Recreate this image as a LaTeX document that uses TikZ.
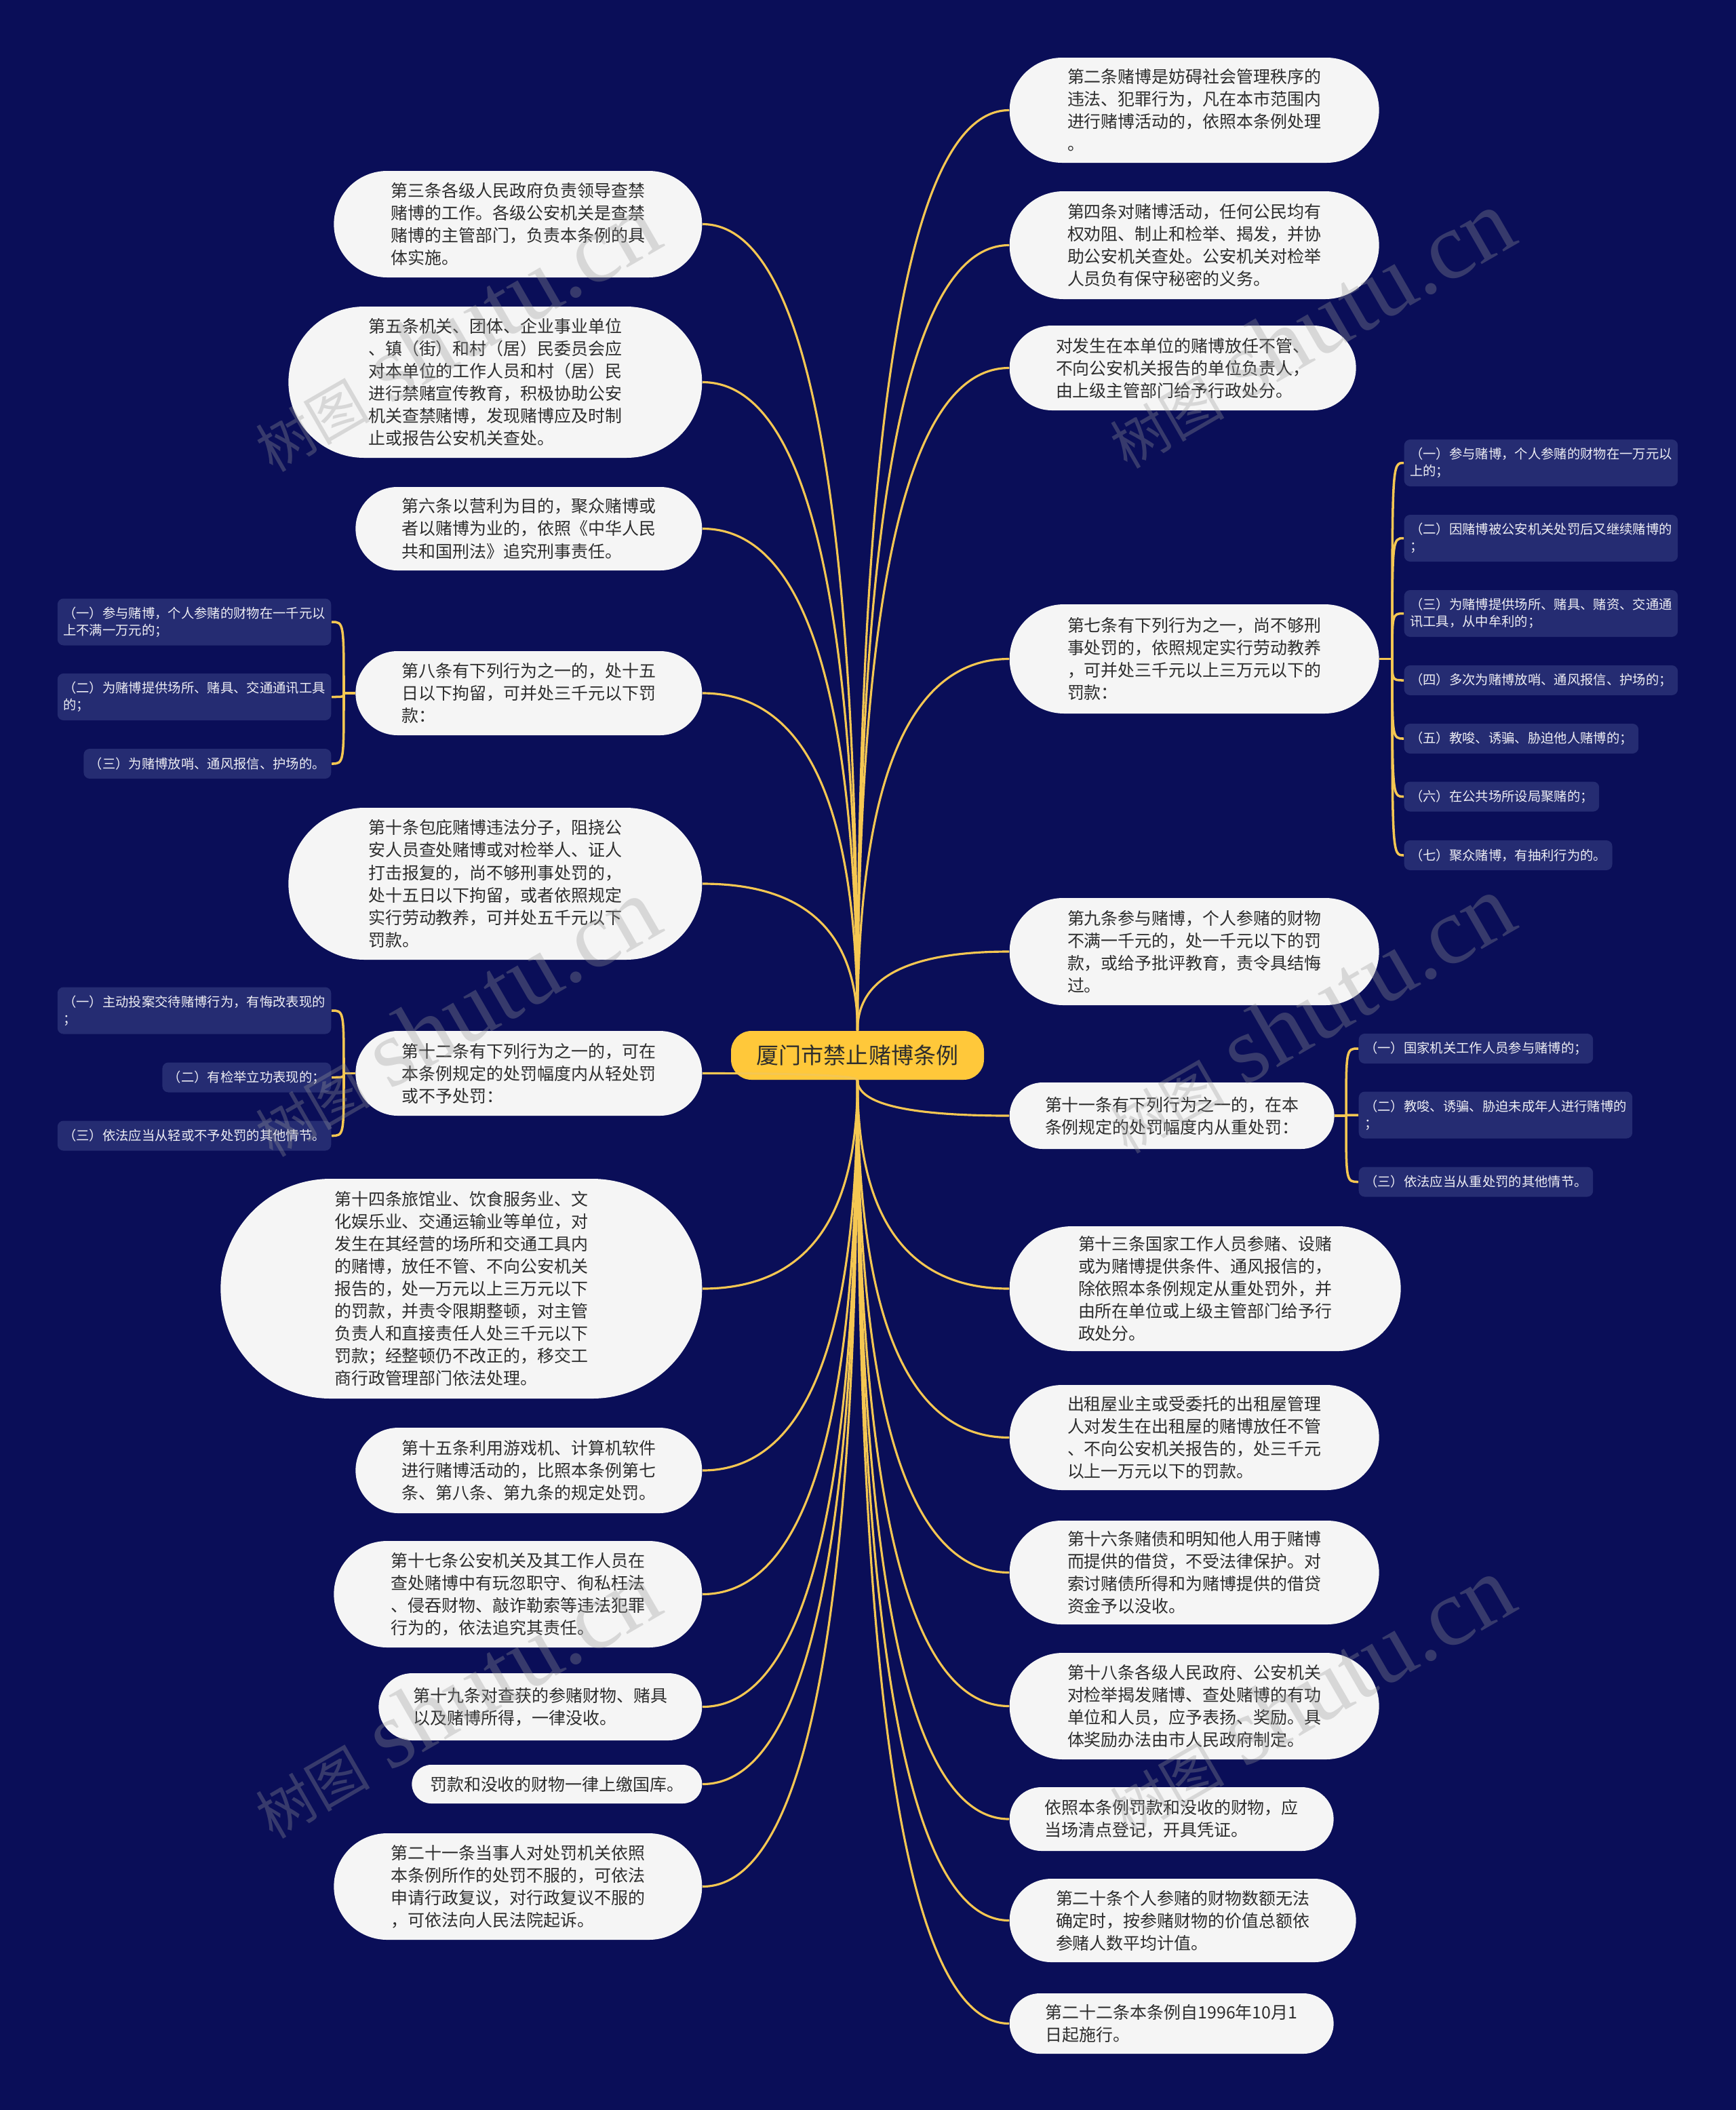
\documentclass[tikz,border=0pt]{standalone}
\usepackage{fontspec}
\setmainfont{Noto Sans CJK SC}
\newfontfamily\marcafont{Liberation Serif}
\usepackage{tikz}
\usetikzlibrary{shapes.misc, calc}
\definecolor{Marino}{RGB}{10, 14, 88}
\definecolor{Oro}{RGB}{245, 199, 82}
\definecolor{Ambar}{RGB}{255, 200, 58}
\definecolor{Hueso}{RGB}{245, 245, 245}
\definecolor{Tinta}{RGB}{45, 45, 45}
\definecolor{Celda}{RGB}{37, 44, 114}

\begin{document}
\begin{tikzpicture}[
        art/.style={
            rounded rectangle,
            fill=Hueso,
            text=Tinta,
            align=left,
            inner xsep=2pt,
            inner ysep=1pt,
            font=\fontsize{7.1}{9.4}\selectfont
        },
        item/.style={
            rectangle,
            rounded corners=2.5pt,
            fill=Celda,
            text=white!92!Celda,
            align=left,
            inner xsep=2.4pt,
            inner ysep=1pt,
            minimum height=0.44cm,
            font=\fontsize{5.5}{7.1}\selectfont
        },
        link/.style={
            draw=Oro,
            line width=0.9pt,
            to path={.. controls ($(\tikztostart)!0.667!(\tikztostart |- \tikztotarget)$)
                and ($(\tikztotarget)!0.667!(\tikztostart |- \tikztotarget)$) .. (\tikztotarget)}
        },
        brace/.style={
            draw=Oro,
            line width=1pt,
            to path={.. controls (\tikztostart |- \tikztotarget) .. (\tikztotarget)}
        },
        marca/.style={
            text=white!60!black,
            opacity=0.32,
            rotate=30
        }
    ]
        % Background
        \useasboundingbox (0,0) rectangle (25.6,-31.11);
        \fill[Marino] (0,0) rectangle (25.6,-31.11);

        % Root
        \node[rectangle, rounded corners=0.3cm, fill=Ambar, text=Tinta, minimum width=3.73cm, minimum height=0.72cm, font=\fontsize{9.4}{11}\selectfont] (raiz) at (12.645, -15.56) {厦门市禁止赌博条例};

        % Nodes, right side
        \node[art, anchor=west, minimum width=5.59cm, minimum height=1.55cm] (art2) at (14.88, -1.625) {第二条赌博是妨碍社会管理秩序的\\违法、犯罪行为，凡在本市范围内\\进行赌博活动的，依照本条例处理\\。};
        \node[art, anchor=west, minimum width=5.59cm, minimum height=1.59cm] (art4) at (14.88, -3.615) {第四条对赌博活动，任何公民均有\\权劝阻、制止和检举、揭发，并协\\助公安机关查处。公安机关对检举\\人员负有保守秘密的义务。};
        \node[art, anchor=west, minimum width=5.25cm, minimum height=1.25cm] (danwei) at (14.88, -5.425) {对发生在本单位的赌博放任不管、\\不向公安机关报告的单位负责人，\\由上级主管部门给予行政处分。};
        \node[art, anchor=west, minimum width=5.59cm, minimum height=1.61cm] (art7) at (14.88, -9.715) {第七条有下列行为之一，尚不够刑\\事处罚的，依照规定实行劳动教养\\，可并处三千元以上三万元以下的\\罚款：};
        \node[art, anchor=west, minimum width=5.59cm, minimum height=1.58cm] (art9) at (14.88, -14.03) {第九条参与赌博，个人参赌的财物\\不满一千元的，处一千元以下的罚\\款，或给予批评教育，责令具结悔\\过。};
        \node[art, anchor=west, minimum width=4.93cm, minimum height=0.98cm] (art11) at (14.88, -16.45) {第十一条有下列行为之一的，在本\\条例规定的处罚幅度内从重处罚：};
        \node[art, anchor=west, minimum width=5.91cm, minimum height=1.84cm] (art13) at (14.88, -19.00) {第十三条国家工作人员参赌、设赌\\或为赌博提供条件、通风报信的，\\除依照本条例规定从重处罚外，并\\由所在单位或上级主管部门给予行\\政处分。};
        \node[art, anchor=west, minimum width=5.59cm, minimum height=1.55cm] (chuzu) at (14.88, -21.195) {出租屋业主或受委托的出租屋管理\\人对发生在出租屋的赌博放任不管\\、不向公安机关报告的，处三千元\\以上一万元以下的罚款。};
        \node[art, anchor=west, minimum width=5.59cm, minimum height=1.53cm] (art16) at (14.88, -23.185) {第十六条赌债和明知他人用于赌博\\而提供的借贷，不受法律保护。对\\索讨赌债所得和为赌博提供的借贷\\资金予以没收。};
        \node[art, anchor=west, minimum width=5.59cm, minimum height=1.57cm] (art18) at (14.88, -25.155) {第十八条各级人民政府、公安机关\\对检举揭发赌博、查处赌博的有功\\单位和人员，应予表扬、奖励。具\\体奖励办法由市人民政府制定。};
        \node[art, anchor=west, minimum width=4.92cm, minimum height=0.94cm] (yizhao) at (14.88, -26.82) {依照本条例罚款和没收的财物，应\\当场清点登记，开具凭证。};
        \node[art, anchor=west, minimum width=5.25cm, minimum height=1.23cm] (art20) at (14.88, -28.315) {第二十条个人参赌的财物数额无法\\确定时，按参赌财物的价值总额依\\参赌人数平均计值。};
        \node[art, anchor=west, minimum width=4.92cm, minimum height=0.89cm] (art22) at (14.88, -29.835) {第二十二条本条例自1996年10月1\\日起施行。};

        % Nodes, left side
        \node[art, anchor=east, minimum width=5.57cm, minimum height=1.57cm] (art3) at (10.36, -3.305) {第三条各级人民政府负责领导查禁\\赌博的工作。各级公安机关是查禁\\赌博的主管部门，负责本条例的具\\体实施。};
        \node[art, anchor=east, minimum width=6.24cm, minimum height=2.23cm] (art5) at (10.36, -5.635) {第五条机关、团体、企业事业单位\\、镇（街）和村（居）民委员会应\\对本单位的工作人员和村（居）民\\进行禁赌宣传教育，积极协助公安\\机关查禁赌博，发现赌博应及时制\\止或报告公安机关查处。};
        \node[art, anchor=east, minimum width=5.25cm, minimum height=1.23cm] (art6) at (10.36, -7.795) {第六条以营利为目的，聚众赌博或\\者以赌博为业的，依照《中华人民\\共和国刑法》追究刑事责任。};
        \node[art, anchor=east, minimum width=5.25cm, minimum height=1.24cm] (art8) at (10.36, -10.22) {第八条有下列行为之一的，处十五\\日以下拘留，可并处三千元以下罚\\款：};
        \node[art, anchor=east, minimum width=6.24cm, minimum height=2.24cm] (art10) at (10.36, -13.03) {第十条包庇赌博违法分子，阻挠公\\安人员查处赌博或对检举人、证人\\打击报复的，尚不够刑事处罚的，\\处十五日以下拘留，或者依照规定\\实行劳动教养，可并处五千元以下\\罚款。};
        \node[art, anchor=east, minimum width=5.25cm, minimum height=1.25cm] (art12) at (10.36, -15.825) {第十二条有下列行为之一的，可在\\本条例规定的处罚幅度内从轻处罚\\或不予处罚：};
        \node[art, anchor=east, minimum width=7.24cm, minimum height=3.24cm] (art14) at (10.36, -19.00) {第十四条旅馆业、饮食服务业、文\\化娱乐业、交通运输业等单位，对\\发生在其经营的场所和交通工具内\\的赌博，放任不管、不向公安机关\\报告的，处一万元以上三万元以下\\的罚款，并责令限期整顿，对主管\\负责人和直接责任人处三千元以下\\罚款；经整顿仍不改正的，移交工\\商行政管理部门依法处理。};
        \node[art, anchor=east, minimum width=5.25cm, minimum height=1.26cm] (art15) at (10.36, -21.68) {第十五条利用游戏机、计算机软件\\进行赌博活动的，比照本条例第七\\条、第八条、第九条的规定处罚。};
        \node[art, anchor=east, minimum width=5.57cm, minimum height=1.57cm] (art17) at (10.36, -23.505) {第十七条公安机关及其工作人员在\\查处赌博中有玩忽职守、徇私枉法\\、侵吞财物、敲诈勒索等违法犯罪\\行为的，依法追究其责任。};
        \node[art, anchor=east, minimum width=4.91cm, minimum height=0.99cm] (art19) at (10.36, -25.165) {第十九条对查获的参赌财物、赌具\\以及赌博所得，一律没收。};
        \node[art, anchor=east, minimum width=4.42cm, minimum height=0.57cm] (fakuan) at (10.36, -26.305) {罚款和没收的财物一律上缴国库。};
        \node[art, anchor=east, minimum width=5.57cm, minimum height=1.57cm] (art21) at (10.36, -27.815) {第二十一条当事人对处罚机关依照\\本条例所作的处罚不服的，可依法\\申请行政复议，对行政复议不服的\\，可依法向人民法院起诉。};

        % Items of art. 7
        \node[item, anchor=west, minimum height=0.69cm] (art7a) at (20.70, -6.825) {（一）参与赌博，个人参赌的财物在一万元以\\上的；};
        \node[item, anchor=west, minimum height=0.69cm] (art7b) at (20.70, -7.935) {（二）因赌博被公安机关处罚后又继续赌博的\\；};
        \node[item, anchor=west, minimum height=0.69cm] (art7c) at (20.70, -9.045) {（三）为赌博提供场所、赌具、赌资、交通通\\讯工具，从中牟利的；};
        \node[item, anchor=west] (art7d) at (20.70, -10.03) {（四）多次为赌博放哨、通风报信、护场的；};
        \node[item, anchor=west] (art7e) at (20.70, -10.89) {（五）教唆、诱骗、胁迫他人赌博的；};
        \node[item, anchor=west] (art7f) at (20.70, -11.745) {（六）在公共场所设局聚赌的；};
        \node[item, anchor=west] (art7g) at (20.70, -12.61) {（七）聚众赌博，有抽利行为的。};

        % Items of art. 8
        \node[item, anchor=east, minimum height=0.69cm] (art8a) at (4.89, -9.17) {（一）参与赌博，个人参赌的财物在一千元以\\上不满一万元的；};
        \node[item, anchor=east, minimum height=0.69cm] (art8b) at (4.89, -10.275) {（二）为赌博提供场所、赌具、交通通讯工具\\的；};
        \node[item, anchor=east] (art8c) at (4.89, -11.26) {（三）为赌博放哨、通风报信、护场的。};

        % Items of art. 11
        \node[item, anchor=west] (art11a) at (20.03, -15.46) {（一）国家机关工作人员参与赌博的；};
        \node[item, anchor=west, minimum height=0.69cm] (art11b) at (20.03, -16.44) {（二）教唆、诱骗、胁迫未成年人进行赌博的\\；};
        \node[item, anchor=west] (art11c) at (20.03, -17.425) {（三）依法应当从重处罚的其他情节。};

        % Items of art. 12
        \node[item, anchor=east, minimum height=0.69cm] (art12a) at (4.89, -14.90) {（一）主动投案交待赌博行为，有悔改表现的\\；};
        \node[item, anchor=east] (art12b) at (4.89, -15.885) {（二）有检举立功表现的；};
        \node[item, anchor=east] (art12c) at (4.89, -16.745) {（三）依法应当从轻或不予处罚的其他情节。};

        % Paths from the root
        \draw[link] (raiz.north) to (art2.west);
        \draw[link] (raiz.north) to (art4.west);
        \draw[link] (raiz.north) to (danwei.west);
        \draw[link] (raiz.north) to (art7.west);
        \draw[link] (raiz.north) to (art9.west);
        \draw[link] (raiz.south) to (art11.west);
        \draw[link] (raiz.south) to (art13.west);
        \draw[link] (raiz.south) to (chuzu.west);
        \draw[link] (raiz.south) to (art16.west);
        \draw[link] (raiz.south) to (art18.west);
        \draw[link] (raiz.south) to (yizhao.west);
        \draw[link] (raiz.south) to (art20.west);
        \draw[link] (raiz.south) to (art22.west);
        \draw[link] (raiz.north) to (art3.east);
        \draw[link] (raiz.north) to (art5.east);
        \draw[link] (raiz.north) to (art6.east);
        \draw[link] (raiz.north) to (art8.east);
        \draw[link] (raiz.north) to (art10.east);
        \draw[link] (raiz.south) to (art12.east);
        \draw[link] (raiz.south) to (art14.east);
        \draw[link] (raiz.south) to (art15.east);
        \draw[link] (raiz.south) to (art17.east);
        \draw[link] (raiz.south) to (art19.east);
        \draw[link] (raiz.south) to (fakuan.east);
        \draw[link] (raiz.south) to (art21.east);

        % Braces to the items
        \coordinate (j7) at (20.53, -9.715);
        \draw[brace] (art7.east) -- (j7);
        \draw[brace] (j7) to (art7a.west);
        \draw[brace] (j7) to (art7b.west);
        \draw[brace] (j7) to (art7c.west);
        \draw[brace] (j7) to (art7d.west);
        \draw[brace] (j7) to (art7e.west);
        \draw[brace] (j7) to (art7f.west);
        \draw[brace] (j7) to (art7g.west);

        \coordinate (j8) at (5.07, -10.22);
        \draw[brace] (art8.west) -- (j8);
        \draw[brace] (j8) to (art8a.east);
        \draw[brace] (j8) to (art8b.east);
        \draw[brace] (j8) to (art8c.east);

        \coordinate (j11) at (19.85, -16.45);
        \draw[brace] (art11.east) -- (j11);
        \draw[brace] (j11) to (art11a.west);
        \draw[brace] (j11) to (art11b.west);
        \draw[brace] (j11) to (art11c.west);

        \coordinate (j12) at (5.07, -15.825);
        \draw[brace] (art12.west) -- (j12);
        \draw[brace] (j12) to (art12a.east);
        \draw[brace] (j12) to (art12b.east);
        \draw[brace] (j12) to (art12c.east);

        % Watermarks
        \node[marca] (marca1) at (6.7, -4.9) {{\fontsize{24}{24}\selectfont 树图}\hspace{0.3cm}{\marcafont\fontsize{40}{40}\selectfont shutu.cn}};
        \node[marca] (marca2) at (19.3, -4.85) {{\fontsize{24}{24}\selectfont 树图}\hspace{0.3cm}{\marcafont\fontsize{40}{40}\selectfont shutu.cn}};
        \node[marca] (marca3) at (6.7, -15.0) {{\fontsize{24}{24}\selectfont 树图}\hspace{0.3cm}{\marcafont\fontsize{40}{40}\selectfont shutu.cn}};
        \node[marca] (marca4) at (19.3, -14.95) {{\fontsize{24}{24}\selectfont 树图}\hspace{0.3cm}{\marcafont\fontsize{40}{40}\selectfont shutu.cn}};
        \node[marca] (marca5) at (6.7, -25.05) {{\fontsize{24}{24}\selectfont 树图}\hspace{0.3cm}{\marcafont\fontsize{40}{40}\selectfont shutu.cn}};
        \node[marca] (marca6) at (19.3, -25.0) {{\fontsize{24}{24}\selectfont 树图}\hspace{0.3cm}{\marcafont\fontsize{40}{40}\selectfont shutu.cn}};
    \end{tikzpicture}
\end{document}
